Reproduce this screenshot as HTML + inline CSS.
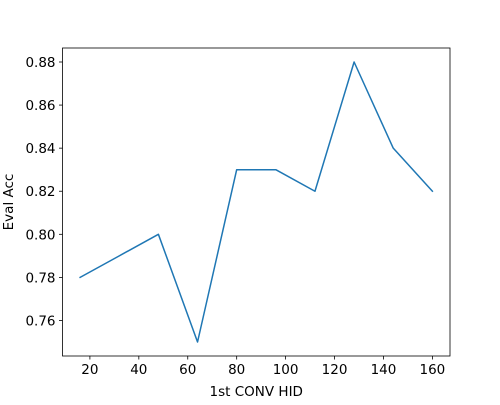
<!DOCTYPE html>
<html><head><meta charset="utf-8"><style>
body{margin:0;background:#fff;}
svg text{font-family:"DejaVu Sans","Liberation Sans",sans-serif;font-size:13.5px;fill:#000;}
</style></head><body>
<svg id="chart" width="500" height="400" xmlns="http://www.w3.org/2000/svg"></svg>
<script>
const xValues=[16,32,48,64,80,96,112,128,144,160];
const accValues=[0.78,0.79,0.80,0.75,0.83,0.83,0.82,0.88,0.84,0.82];
const xTicks=[20,40,60,80,100,120,140,160];
const yTicks=[0.76,0.78,0.80,0.82,0.84,0.86,0.88];
const xTitle="1st CONV HID";
const yTitle="Eval Acc";

const L=62.5,R=450,T=48,B=356;
const svg=document.getElementById('chart');
const ns='http://www.w3.org/2000/svg';
const xmin=Math.min(...xValues),xmax=Math.max(...xValues);
const ymin=Math.min(...accValues),ymax=Math.max(...accValues);
const xm=(xmax-xmin)*0.05,ym=(ymax-ymin)*0.05;
const x0=xmin-xm,x1=xmax+xm,y0=ymin-ym,y1=ymax+ym;
const sx=v=>L+(v-x0)/(x1-x0)*(R-L);
const sy=v=>B-(v-y0)/(y1-y0)*(B-T);
function mk(tag,attrs){const e=document.createElementNS(ns,tag);for(const k in attrs)e.setAttribute(k,attrs[k]);svg.appendChild(e);return e;}

xTicks.forEach(v=>{
  const x=sx(v);
  const t=mk('line',{x1:x,x2:x,y1:B,y2:B+3.5,stroke:'#000','stroke-width':0.8});
  
  
  const l=mk('text',{x:x,y:B+18,'text-anchor':'middle'});
  l.textContent=v;
  
  
});
yTicks.forEach(v=>{
  const y=sy(v);
  const t=mk('line',{x1:L-3.5,x2:L,y1:y,y2:y,stroke:'#000','stroke-width':0.8});
  
  
  const l=mk('text',{x:L-7,y:y+5,'text-anchor':'end'});
  l.textContent=v.toFixed(2);
  
  
});

const pts=xValues.map((v,i)=>sx(v).toFixed(2)+','+sy(accValues[i]).toFixed(2)).join(' ');
const line=mk('polyline',{points:pts,fill:'none',stroke:'#1f77b4','stroke-width':1.5,'stroke-linejoin':'round','stroke-linecap':'square'});



const frame=mk('rect',{x:L,y:T,width:R-L,height:B-T,fill:'none',stroke:'#000','stroke-width':0.8});



const xt=mk('text',{x:(L+R)/2,y:396,'text-anchor':'middle'});
xt.textContent=xTitle;


const yt=mk('text',{x:0,y:0,'text-anchor':'middle',transform:'translate(13,'+((T+B)/2)+') rotate(-90)'});
yt.textContent=yTitle;


</script>
</body></html>
